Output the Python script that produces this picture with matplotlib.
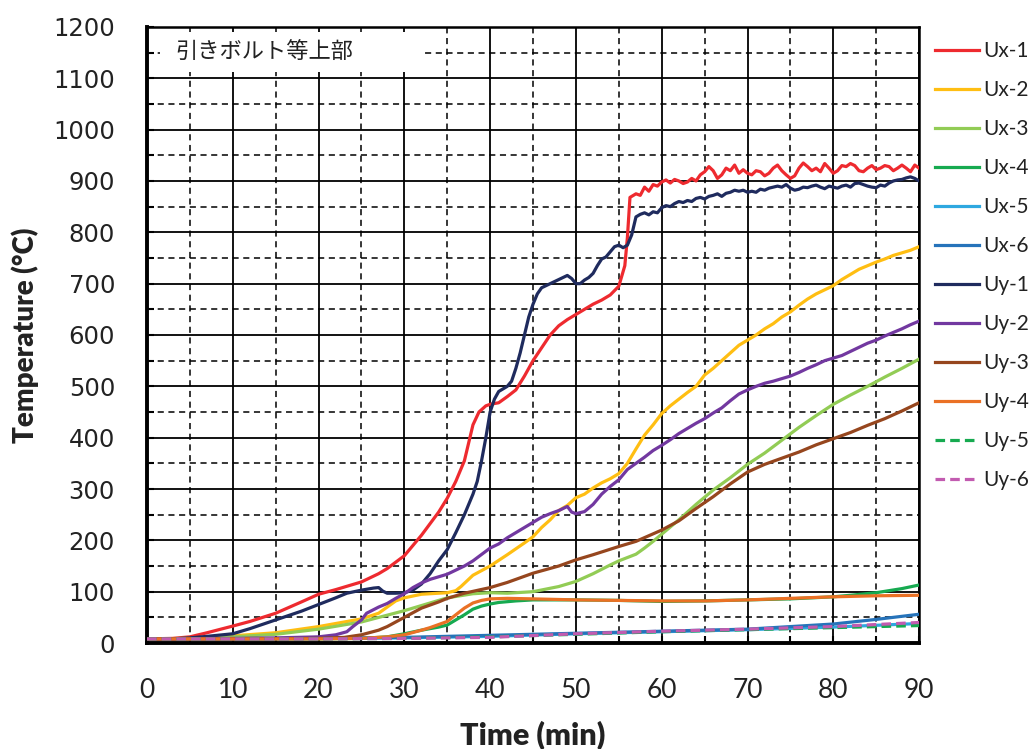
import matplotlib
matplotlib.use("Agg")
import matplotlib.pyplot as plt
from matplotlib.patches import Rectangle
from matplotlib.ticker import MultipleLocator

# ---------------- data ----------------
t_ux1 = [0, 3, 5, 7, 10, 12, 15, 18, 20, 22, 25, 27, 28, 30, 32, 34, 35, 36, 37, 38, 38.7, 39.5, 40, 41, 42, 43, 44, 45,
         46, 47, 48, 49, 50, 51, 52, 53, 54, 55, 55.7, 56, 56.3, 57, 57.5, 58, 58.5, 59, 59.5, 60, 60.5, 61, 61.5, 62,
         62.5, 63, 63.5, 64, 64.5, 65, 65.5, 66, 66.5, 67, 67.5, 68, 68.5, 69, 69.5, 70, 70.5, 71, 71.5, 72, 72.5, 73,
         73.5, 74, 74.5, 75, 75.5, 76, 76.5, 77, 77.5, 78, 78.5, 79, 79.5, 80, 80.5, 81, 81.5, 82, 82.5, 83, 83.5, 84,
         84.5, 85, 85.5, 86, 86.5, 87, 87.5, 88, 88.5, 89, 89.5, 90]
v_ux1 = [8, 9, 12, 20, 33, 42, 58, 80, 95, 104, 119, 135, 145, 170, 210, 255, 282, 315, 355, 425, 450, 462, 465, 468, 480,
         493, 520, 550, 575, 600, 618, 630, 640, 650, 660, 668, 678, 695, 735, 790, 868, 875, 872, 888, 880, 893, 890,
         898, 902, 896, 903, 900, 895, 898, 905, 900, 912, 918, 928, 920, 905, 912, 925, 920, 931, 915, 922, 915, 912,
         920, 918, 910, 915, 925, 931, 920, 912, 905, 910, 925, 935, 928, 920, 925, 918, 934, 925, 915, 920, 930, 928,
         934, 930, 920, 918, 925, 930, 922, 925, 930, 928, 920, 925, 931, 925, 918, 931, 925]

t_uy1 = [0, 3, 5, 7, 10, 12, 15, 18, 20, 22, 23.3, 25, 26.4, 27, 27.5, 28, 29, 30, 31, 32, 33, 34, 35, 36, 37, 38, 38.5,
         39, 39.5, 40, 40.5, 41, 42, 42.5, 43, 43.5, 44, 44.5, 45, 45.5, 46, 47, 48, 49, 49.5, 50, 50.5, 51, 51.5, 52,
         52.5, 53, 53.5, 54, 54.5, 55, 55.5, 56, 56.5, 57, 57.5, 58, 58.5, 59, 59.5, 60, 60.5, 61, 61.5, 62, 62.5, 63,
         63.5, 64, 64.5, 65, 65.5, 66, 66.5, 67, 67.5, 68, 68.5, 69, 69.5, 70, 70.5, 71, 71.5, 72, 72.5, 73, 73.5, 74,
         74.5, 75, 75.5, 76, 76.5, 77, 77.5, 78, 78.5, 79, 79.5, 80, 80.5, 81, 81.5, 82, 82.5, 83, 83.5, 84, 84.5, 85,
         85.5, 86, 86.5, 87, 87.5, 88, 88.5, 89, 89.5, 90]
v_uy1 = [8, 8, 10, 13, 18, 28, 45, 62, 75, 88, 97, 103, 107, 108, 101, 97, 97, 98, 103, 115, 135, 160, 182, 215, 250, 290,
         315, 355, 400, 450, 475, 490, 500, 510, 535, 565, 600, 635, 660, 680, 692, 700, 708, 716, 710, 700, 700, 707,
         712, 720, 735, 748, 752, 762, 772, 775, 770, 775, 795, 830, 835, 838, 834, 840, 838, 848, 852, 850, 856, 860,
         858, 862, 860, 866, 868, 865, 870, 872, 875, 870, 876, 878, 882, 880, 882, 878, 880, 878, 884, 882, 886, 888,
         890, 888, 893, 886, 882, 884, 888, 887, 890, 892, 888, 885, 890, 888, 886, 890, 892, 888, 895, 896, 893, 890,
         888, 887, 892, 890, 896, 900, 902, 903, 906, 908, 905, 900]

t_ux2 = [0, 5, 7, 10, 15, 20, 25, 27, 28, 29, 30, 32, 35, 36, 36.6, 38, 40, 42, 44, 45, 46, 47, 48, 49, 50, 51, 52, 53,
         54, 55, 56, 57, 58, 59, 60, 61, 62, 63, 64, 65, 66, 67, 68, 69, 70, 71, 72, 73, 74, 75, 76, 77, 78, 79, 80,
         81, 82, 83, 84, 85, 86, 87, 88, 89, 90]
v_ux2 = [8, 9, 10, 14, 20, 32, 47, 58, 70, 82, 88, 95, 98, 102, 110, 132, 150, 172, 195, 207, 225, 240, 258, 268, 283,
         290, 302, 312, 320, 330, 350, 378, 405, 425, 447, 462, 475, 488, 500, 522, 535, 550, 565, 580, 590, 600, 612,
         622, 635, 645, 658, 670, 680, 688, 696, 708, 718, 728, 735, 742, 748, 755, 760, 765, 772]

t_ux3 = [0, 5, 10, 15, 20, 25, 30, 33, 35, 38, 40, 42, 45, 48, 50, 52, 54, 55, 57, 58, 59, 60, 62, 64, 66, 68, 70, 72,
         74, 76, 78, 80, 82, 84, 86, 88, 90]
v_ux3 = [8, 9, 12, 17, 27, 41, 63, 78, 88, 96, 98, 97, 100, 110, 120, 135, 152, 160, 173, 185, 198, 212, 240, 270, 298,
         322, 348, 370, 395, 420, 443, 465, 483, 500, 518, 535, 553]

t_ux4 = [0, 10, 20, 25, 28, 30, 32, 34, 35, 36, 37, 38, 39, 40, 41, 43, 45, 50, 55, 60, 65, 70, 75, 80, 82, 85, 88, 90]
v_ux4 = [8, 8, 8, 9, 12, 18, 25, 31, 35, 45, 55, 66, 72, 76, 79, 82, 84, 84, 83, 81, 82, 84, 86, 90, 93, 98, 106, 113]

t_ux5 = [0, 10, 20, 30, 40, 50, 60, 70, 80, 90]
v_ux5 = [8, 8, 9, 10, 13, 18, 22, 26, 31, 38]

t_ux6 = [0, 10, 20, 30, 40, 50, 60, 70, 80, 85, 90]
v_ux6 = [8, 8, 9, 11, 15, 19, 23, 27, 37, 46, 56]

t_uy2 = [0, 10, 15, 20, 22, 23.3, 24, 25, 25.6, 27, 28, 29, 30, 31, 32, 33, 35, 37, 38, 40, 41, 42, 43, 44, 45, 46, 47,
         48, 49, 49.5, 50, 51, 52, 53, 54, 55, 56, 57, 58, 59, 60, 61, 62, 63, 64, 65, 66, 67, 68, 69, 70, 71, 72, 73,
         74, 75, 76, 77, 78, 79, 80, 81, 82, 83, 84, 85, 86, 87, 88, 89, 90]
v_uy2 = [8, 9, 10, 12, 16, 22, 32, 45, 58, 70, 77, 87, 96, 108, 117, 124, 134, 150, 160, 185, 193, 205, 215, 225, 235,
         245, 252, 258, 266, 255, 252, 256, 270, 290, 305, 318, 338, 350, 362, 375, 385, 396, 408, 418, 428, 437, 448,
         458, 472, 485, 493, 500, 506, 510, 515, 520, 527, 535, 542, 550, 555, 560, 568, 576, 584, 590, 598, 605, 612,
         620, 627]

t_uy3 = [0, 10, 20, 23, 25, 27, 28, 30, 32, 34, 35, 37, 40, 42, 45, 48, 50, 52, 55, 57, 60, 62, 64, 66, 68, 70, 72, 74,
         76, 78, 80, 82, 84, 86, 88, 90]
v_uy3 = [8, 8, 9, 11, 16, 25, 32, 50, 68, 80, 87, 97, 108, 118, 136, 150, 162, 172, 188, 198, 220, 238, 262, 285, 310,
         333, 348, 360, 372, 386, 398, 410, 424, 437, 452, 468]

t_uy4 = [0, 10, 20, 25, 28, 30, 32, 33, 34, 35, 36, 37, 38, 39, 40, 42, 45, 50, 55, 60, 65, 70, 75, 80, 85, 90]
v_uy4 = [8, 8, 8, 9, 12, 16, 25, 30, 36, 42, 55, 68, 78, 83, 86, 87, 86, 84, 83, 82, 82, 84, 87, 90, 92, 93]

t_uy5 = [0, 10, 20, 30, 40, 50, 60, 70, 80, 90]
v_uy5 = [8, 8, 8, 9, 12, 17, 22, 26, 30, 34]

t_uy6 = [0, 10, 20, 30, 40, 50, 60, 70, 80, 90]
v_uy6 = [8, 8, 8, 9, 11, 18, 23, 27, 32, 40]

labels = ["Ux-1", "Ux-2", "Ux-3", "Ux-4", "Ux-5", "Ux-6", "Uy-1", "Uy-2", "Uy-3", "Uy-4", "Uy-5", "Uy-6"]
x_ticks = [0, 10, 20, 30, 40, 50, 60, 70, 80, 90]
y_ticks = [0, 100, 200, 300, 400, 500, 600, 700, 800, 900, 1000, 1100, 1200]
title_text = "引きボルト等上部"

series = [
    (t_ux1, v_ux1, "#EE2A2F", "-"),
    (t_ux2, v_ux2, "#FFBE12", "-"),
    (t_ux3, v_ux3, "#92CC55", "-"),
    (t_ux4, v_ux4, "#16AA50", "-"),
    (t_ux5, v_ux5, "#2EA8E0", "-"),
    (t_ux6, v_ux6, "#2673BA", "-"),
    (t_uy1, v_uy1, "#1F2B5E", "-"),
    (t_uy2, v_uy2, "#7238A0", "-"),
    (t_uy3, v_uy3, "#96461E", "-"),
    (t_uy4, v_uy4, "#EA7125", "-"),
    (t_uy5, v_uy5, "#16AA50", (0, (3, 1.6))),
    (t_uy6, v_uy6, "#C25BB0", (0, (3, 1.6))),
]

# ---------------- figure ----------------
fig = plt.figure(figsize=(10.35, 7.49), dpi=100)
ax = fig.add_axes([0.142, 0.1415, 0.746, 0.8225])

for (t, v, c, ls), lab in zip(series, labels):
    ax.plot(t, v, color=c, linestyle=ls, lw=2.3, label=lab, zorder=3)

ax.set_xlim(0, 90)
ax.set_ylim(0, 1200)
ax.xaxis.set_major_locator(MultipleLocator(10))
ax.xaxis.set_minor_locator(MultipleLocator(5))
ax.yaxis.set_major_locator(MultipleLocator(100))
ax.yaxis.set_minor_locator(MultipleLocator(50))
ax.set_xticks(x_ticks)
ax.set_yticks(y_ticks)

ax.grid(which="major", color="black", lw=1.3, ls="-", zorder=1)
ax.grid(which="minor", color="black", lw=1.1, ls=(0, (4, 3)), zorder=1)
ax.set_axisbelow(True)

ax.tick_params(which="both", direction="in", length=5, width=1.5, color="black")
ax.tick_params(axis="y", pad=23)
ax.tick_params(axis="x", pad=25)
for lab in ax.get_yticklabels():
    lab.set_fontfamily("DejaVu Sans")
    lab.set_fontsize(17.5)
    lab.set_color("#222222")
for lab in ax.get_xticklabels():
    lab.set_fontfamily("Lato")
    lab.set_fontsize(19)
    lab.set_color("#222222")

for side in ["left", "bottom"]:
    ax.spines[side].set_linewidth(2.8)
for side in ["top", "right"]:
    ax.spines[side].set_linewidth(1.8)

ax.set_xlabel("Time (min)", fontfamily="Lato", fontweight="heavy", fontsize=22, color="#222222", labelpad=13)
ax.set_ylabel("Temperature (°C)", fontfamily="Lato", fontweight="heavy", fontsize=20, color="#222222", labelpad=10)

# title box
ax.add_patch(Rectangle((1.5, 1112), 30.7, 78, facecolor="white", edgecolor="none", zorder=2))
ax.text(3.3, 1151, title_text, fontfamily=["Noto Sans CJK JP", "DejaVu Sans"], fontsize=16,
        va="center", ha="left", color="#222222", zorder=4)

leg = ax.legend(loc="upper left", bbox_to_anchor=(1.01, 0.99), frameon=False, fontsize=15,
                handlelength=2.1, handletextpad=0.2, labelspacing=0.91, borderaxespad=0)
for txt in leg.get_texts():
    txt.set_fontfamily("Lato")
    txt.set_color("#222222")

fig.savefig("out.png", dpi=100)
